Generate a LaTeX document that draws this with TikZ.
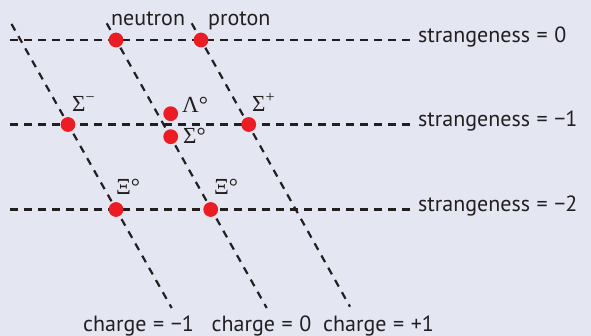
\documentclass[tikz,border=0pt]{standalone}
\usepackage{fontspec}
\setmainfont{PT Sans}
\newfontfamily\greekfont{Liberation Serif}
\usetikzlibrary{positioning}
\definecolor{ink}{HTML}{231F20}
\definecolor{paper}{HTML}{E4E6F2}
\definecolor{baryon}{HTML}{EC1C24}
\newcommand{\eqsp}{\hspace{.3em}=\hspace{.3em}}
\tikzset{
  particle/.style={circle,fill=baryon,minimum size=14.8pt,inner sep=0pt},
  tag/.style={font=\fontsize{22}{26}\selectfont,text=ink,inner sep=0pt},
  greek/.style={font=\fontsize{23}{26}\greekfont,text=ink,inner sep=0pt},
  axisline/.style={draw=ink,line width=2.2pt,dash pattern=on 7.5pt off 6.5pt}}

\begin{document}
\begin{tikzpicture}[x=1pt,y=-1pt]
\useasboundingbox[fill=paper] (0,0) rectangle (591,336);

% strangeness rows
\coordinate (s0) at (10,40);    \coordinate (e0) at (414,40);
\coordinate (s1) at (10,124.5); \coordinate (e1) at (414,124.5);
\coordinate (s2) at (10,209.5); \coordinate (e2) at (414,209.5);
% charge lines
\coordinate (qm) at (11.5,24);    \coordinate (qmb) at (171.7,308);
\coordinate (qz) at (106.7,23.3); \coordinate (qzb) at (266.7,308);
\coordinate (qp) at (191.7,23.3); \coordinate (qpb) at (350,306.7);

\draw[axisline] (s0) -- (e0);
\draw[axisline] (s1) -- (e1);
\draw[axisline] (s2) -- (e2);
\draw[axisline] (qm) -- (qmb);
\draw[axisline] (qz) -- (qzb);
\draw[axisline] (qp) -- (qpb);

\node[tag,anchor=base west] (ls0) at (418,42.5) {strangeness\eqsp 0};
\node[tag,anchor=base west] (ls1) at (418,127) {strangeness\eqsp −1};
\node[tag,anchor=base west] (ls2) at (418,212) {strangeness\eqsp −2};
\node[tag,anchor=base west] (lqm) at (83,331) {charge\eqsp −1};
\node[tag,anchor=base west] (lqz) at (211.5,331) {charge\eqsp 0};
\node[tag,anchor=base west] (lqp) at (323,331) {charge\eqsp +1};

% baryon octet
\node[particle] (n)  at (116,40) {};
\node[particle] (p)  at (201,40) {};
\node[particle] (sm) at (68,124.5) {};
\node[particle] (la) at (170.7,113.7) {};
\node[particle] (sz) at (170.7,136.7) {};
\node[particle] (sp) at (248.7,124.5) {};
\node[particle] (xm) at (116,209.5) {};
\node[particle] (xz) at (210.7,209.5) {};

\node[tag,anchor=base west] (ln) at (111,26) {neutron};
\node[tag,anchor=base west] (lp) at (208,26) {proton};
\node[greek,anchor=base west] (lsm) at (72,112) {Σ\textsuperscript{−}};
\node[greek,anchor=base west] (lla) at (182,113) {Λ°};
\node[greek,anchor=base west] (lsz) at (183,144) {Σ°};
\node[greek,anchor=base west] (lsp) at (252,112) {Σ\textsuperscript{+}};
\node[greek,anchor=base west] (lxm) at (116,195) {Ξ°};
\node[greek,anchor=base west] (lxz) at (214,195) {Ξ°};
\end{tikzpicture}
\end{document}
